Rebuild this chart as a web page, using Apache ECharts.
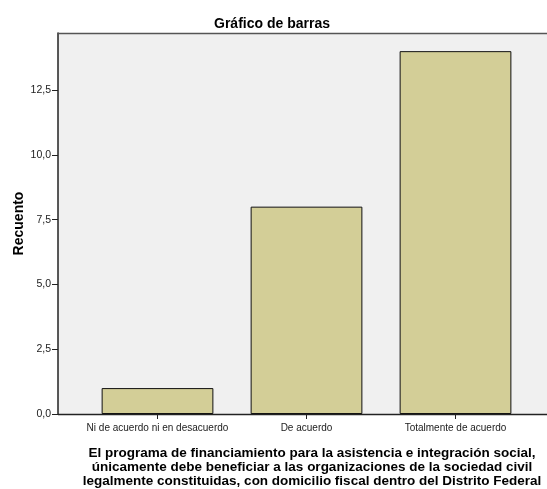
<!DOCTYPE html>
<html>
<head>
<meta charset="utf-8">
<script src="https://cdn.jsdelivr.net/npm/echarts@6/dist/echarts.min.js"></script>
<style>
  html, body { margin: 0; padding: 0; background: #ffffff; }
  #chart { width: 547px; height: 489px; }
</style>
</head>
<body>
<div id="chart"></div>
<script>
// Response categories and counts
const categories = ['Ni de acuerdo ni en desacuerdo', 'De acuerdo', 'Totalmente de acuerdo'];
const counts = [1, 8, 14];
const yTicks = [0, 2.5, 5, 7.5, 10, 12.5];

const chartTitle = 'Gráfico de barras';
const yName = 'Recuento';
const xNameLines = [
  'El programa de financiamiento para la asistencia e integración social,',
  'únicamente debe beneficiar a las organizaciones de la sociedad civil',
  'legalmente constituidas, con domicilio fiscal dentro del Distrito Federal'
];

const FONT = '"Liberation Sans", Arial, sans-serif';
const chart = echarts.init(document.getElementById('chart'), null, { renderer: 'canvas' });

// Plot frame (panel spans wider than the category bands)
const frameLeft = 58, frameTop = 33, frameBottom = 414, frameRight = 560;

chart.setOption({
  backgroundColor: '#ffffff',
  animation: false,
  title: [
    {
      text: chartTitle,
      left: 267, top: 12, textAlign: 'center',
      textStyle: { fontFamily: FONT, fontSize: 14, fontWeight: 'bold', color: '#000' }
    },
    {
      text: xNameLines.join('\n'),
      left: 307, top: 441, textAlign: 'center',
      textStyle: { fontFamily: FONT, fontSize: 13.5, fontWeight: 'bold', color: '#000', lineHeight: 14.3 }
    }
  ],
  graphic: [
    {
      type: 'rect', z: -10, silent: true,
      shape: { x: frameLeft, y: frameTop, width: frameRight - frameLeft, height: frameBottom - frameTop },
      style: { fill: '#f0f0f0', stroke: null }
    },
    {
      type: 'line', z: 5, silent: true,
      shape: { x1: frameLeft, y1: frameTop + 0.5, x2: frameRight, y2: frameTop + 0.5 },
      style: { stroke: '#555555', lineWidth: 1.5 }
    },
    {
      type: 'line', z: 5, silent: true,
      shape: { x1: frameLeft, y1: frameBottom + 0.5, x2: frameRight, y2: frameBottom + 0.5 },
      style: { stroke: '#222222', lineWidth: 1.5 }
    }
  ],
  grid: {
    left: 83, right: 17, top: frameTop, bottom: 489 - frameBottom,
    containLabel: false, outerBoundsMode: 'none'
  },
  xAxis: {
    type: 'category',
    data: categories,
    axisLine: { show: false },
    axisTick: { show: true, alignWithLabel: true, length: 5, lineStyle: { color: '#222' } },
    axisLabel: { fontFamily: FONT, fontSize: 10, color: '#222', margin: 9, interval: 0 },
    splitLine: { show: false }
  },
  yAxis: {
    type: 'value',
    min: 0, max: 14.7, interval: 2.5,
    offset: 25,
    name: yName,
    nameLocation: 'middle',
    nameGap: 32,
    nameMoveOverlap: false,
    nameTextStyle: { fontFamily: FONT, fontSize: 14, fontWeight: 'bold', color: '#000' },
    axisLine: { show: true, lineStyle: { color: '#222', width: 1.5 } },
    axisTick: { show: true, length: 6, customValues: yTicks, lineStyle: { color: '#222' } },
    axisLabel: {
      fontFamily: FONT, fontSize: 10.5, color: '#222', margin: 7,
      customValues: yTicks,
      formatter: v => v.toFixed(1).replace('.', ',')
    },
    splitLine: { show: false }
  },
  series: [{
    type: 'bar',
    data: counts,
    barCategoryGap: '25%',
    itemStyle: { color: '#d3ce97', borderColor: '#111', borderWidth: 1 }
  }]
});
</script>
</body>
</html>
